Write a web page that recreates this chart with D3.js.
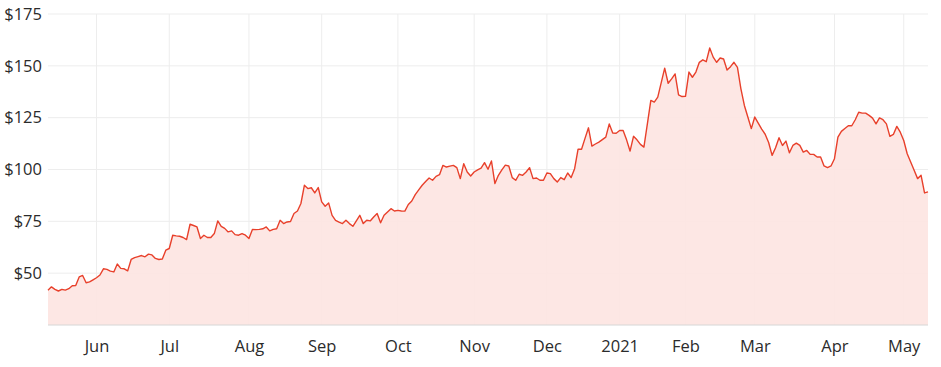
<!DOCTYPE html>
<html>
<head>
<meta charset="utf-8">
<script src="https://cdn.jsdelivr.net/npm/d3@7"></script>
<style>
  body { margin: 0; background: #fff; }
  #chart text { font-family: "Open Sans", Lato, sans-serif; fill: #2b2b2b; }
</style>
</head>
<body>
<div id="chart"></div>
<script>
// daily closes, ASX trading days, 12 May 2020 .. 12 May 2021
const prices = [
  41.8, 43.4, 42.2, 41.4, 42.2, 41.8, 42.5, 43.9, 44.0, 48.2,
  48.9, 45.4, 45.8, 46.8, 47.8, 49.1, 52.1, 51.8, 51.0, 50.6,
  54.4, 52.3, 52.1, 51.1, 56.6, 57.5, 58.0, 58.5, 57.9, 59.2,
  58.8, 57.1, 56.6, 56.8, 61.1, 61.9, 68.3, 68.0, 67.8, 67.2,
  66.2, 73.6, 73.0, 72.3, 66.7, 68.3, 67.2, 67.2, 69.1, 75.2,
  72.6, 71.6, 69.9, 70.4, 68.6, 68.3, 69.1, 68.3, 66.7, 71.1,
  71.0, 71.1, 71.4, 72.3, 70.4, 71.1, 71.4, 75.5, 73.9, 74.7,
  74.9, 78.8, 80.0, 83.6, 92.4, 90.8, 91.2, 88.7, 91.3, 84.4,
  82.3, 83.9, 77.9, 75.5, 74.6, 73.9, 75.5, 73.9, 72.6, 75.2,
  77.9, 73.9, 75.5, 75.2, 77.1, 78.8, 74.3, 77.9, 79.5, 81.1,
  80.0, 80.3, 80.0, 79.9, 83.1, 84.8, 87.9, 90.2, 92.4, 94.2,
  95.9, 94.8, 96.7, 97.5, 102.0, 101.2, 101.6, 102.0, 100.9, 95.6,
  102.8, 98.8, 96.9, 98.8, 99.8, 100.7, 103.3, 100.1, 104.1, 93.2,
  97.2, 99.8, 102.1, 101.7, 96.1, 94.8, 97.7, 97.2, 98.8, 100.9,
  95.6, 95.9, 94.8, 94.8, 98.3, 98.0, 95.6, 94.0, 96.1, 95.1,
  98.3, 96.1, 100.4, 109.8, 109.8, 115.0, 120.1, 111.3, 112.3, 113.2,
  114.4, 115.6, 122.0, 117.6, 117.5, 118.8, 118.8, 114.3, 108.9, 116.0,
  114.3, 112.1, 110.8, 122.0, 133.3, 132.5, 134.9, 141.9, 148.9, 141.6,
  143.7, 146.1, 136.0, 135.2, 135.3, 147.0, 144.5, 147.0, 151.7, 152.9,
  152.0, 158.6, 154.2, 151.7, 153.8, 153.3, 148.0, 149.6, 151.7, 149.3,
  138.9, 130.9, 125.3, 119.7, 125.3, 122.4, 119.5, 117.0, 113.0, 106.8,
  110.5, 115.3, 111.6, 113.7, 108.1, 111.6, 112.7, 111.6, 108.4, 109.2,
  107.3, 107.3, 106.0, 106.0, 101.7, 100.9, 101.7, 105.2, 115.6, 118.4,
  119.8, 121.1, 121.1, 124.0, 127.6, 127.2, 127.2, 126.1, 124.8, 122.0,
  124.9, 124.0, 122.0, 116.0, 116.9, 120.8, 118.0, 114.0, 107.6, 103.6,
  99.6, 95.6, 97.2, 88.7, 89.2
];

// first trading day of each month, as index into prices
const monthIndex = [14, 35, 58, 79, 101, 123, 144, 165, 184, 204, 227, 247];
const monthLabels = ["Jun", "Jul", "Aug", "Sep", "Oct", "Nov", "Dec", "2021", "Feb", "Mar", "Apr", "May"];

const yTicks = [50, 75, 100, 125, 150, 175];

const width = 941, height = 367;
const margin = { top: 14, right: 13, bottom: 42, left: 48 };

const svg = d3.select("#chart").append("svg")
    .attr("width", width)
    .attr("height", height);

const x = d3.scaleLinear()
    .domain([0, prices.length - 1])
    .range([margin.left, width - margin.right]);

const y = d3.scaleLinear()
    .domain([25, 175])
    .range([height - margin.bottom, margin.top]);

// grid
svg.append("g")
    .selectAll("line")
    .data(yTicks)
    .join("line")
    .attr("x1", margin.left)
    .attr("x2", width - margin.right)
    .attr("y1", d => y(d))
    .attr("y2", d => y(d))
    .attr("stroke", "#ededed");

svg.append("g")
    .selectAll("line")
    .data(monthIndex)
    .join("line")
    .attr("x1", d => x(d))
    .attr("x2", d => x(d))
    .attr("y1", margin.top)
    .attr("y2", height - margin.bottom)
    .attr("stroke", "#ededed");

// area + line
const area = d3.area()
    .x((d, i) => x(i))
    .y0(y(25))
    .y1(d => y(d));

const line = d3.line()
    .x((d, i) => x(i))
    .y(d => y(d));

svg.append("path")
    .datum(prices)
    .attr("d", area)
    .attr("fill", "#fde4e1")
    .attr("fill-opacity", 0.9);

svg.append("path")
    .datum(prices)
    .attr("d", line)
    .attr("fill", "none")
    .attr("stroke", "#e8402b")
    .attr("stroke-width", 1.4)
    .attr("stroke-linejoin", "round");

// axes
const yAxis = d3.axisLeft(y)
    .tickValues(yTicks)
    .tickSize(0)
    .tickPadding(6)
    .tickFormat(d => "$" + d);

svg.append("g")
    .attr("transform", `translate(${margin.left},0)`)
    .call(yAxis)
    .call(g => g.select(".domain").remove())
    .selectAll("text")
    .attr("font-size", 16.5);

const xAxis = d3.axisBottom(x)
    .tickValues(monthIndex)
    .tickSize(0)
    .tickPadding(15)
    .tickFormat((d, i) => monthLabels[i]);

svg.append("g")
    .attr("transform", `translate(0,${height - margin.bottom})`)
    .call(xAxis)
    .call(g => g.select(".domain")
        .attr("stroke", "#d6d6d6")
        .attr("d", `M${margin.left},0H${width - margin.right}`))
    .selectAll("text")
    .attr("font-size", 16.5);
</script>
</body>
</html>
